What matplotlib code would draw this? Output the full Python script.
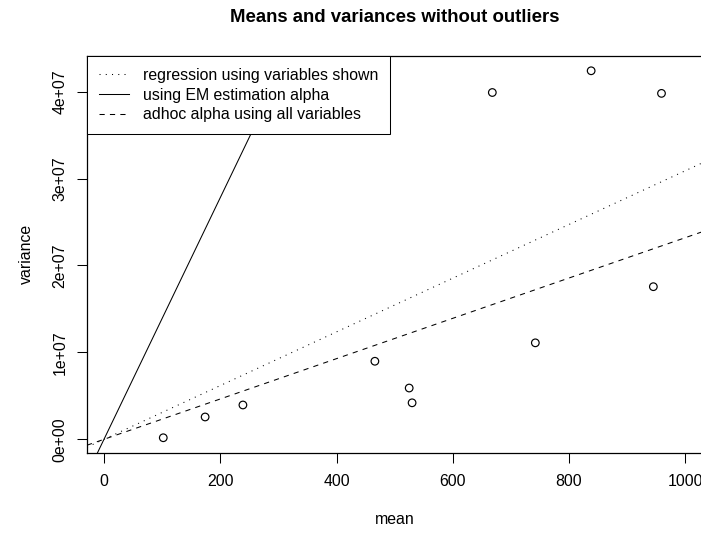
import numpy as np
import matplotlib
matplotlib.use("Agg")
import matplotlib.pyplot as plt

# values
mean_vals = [102, 174, 239, 466, 525, 530, 742, 668, 838, 959, 945]
var_vals = [1.8e5, 2.57e6, 3.95e6, 8.98e6, 5.9e6, 4.2e6, 1.11e7, 3.99e7, 4.24e7, 3.98e7, 1.756e7]

# slopes of the three lines through the origin
slope_regression = 3.09e4
slope_em = 1.39e5
slope_adhoc = 2.32e4

legend_labels = ["regression using variables shown",
                 "using EM estimation alpha",
                 "adhoc alpha using all variables"]

x_ticks = [0, 200, 400, 600, 800, 1000]
y_ticks = [0, 1e7, 2e7, 3e7, 4e7]
y_tick_labels = ["0e+00", "1e+07", "2e+07", "3e+07", "4e+07"]

W, H = 701, 533
plt.rcParams['font.family'] = ['Liberation Sans', 'DejaVu Sans']
base_fs = 11.4

fig = plt.figure(figsize=(W / 100, H / 100), dpi=100)
# plot region in pixels: left 87, right 703 (just past the picture), top 56, bottom 452.7
ax = fig.add_axes([87 / W, (H - 452.7) / H, (703 - 87) / W, (452.7 - 56) / H])

ax.scatter(mean_vals, var_vals, s=30, facecolors='none', edgecolors='black',
           linewidths=0.85, zorder=3)

lw = 0.75
ax.axline((0, 0), slope=slope_regression, color='black', lw=lw,
          linestyle=(0, (1, 5)), label=legend_labels[0])
ax.axline((0, 0), slope=slope_em, color='black', lw=lw,
          linestyle='-', label=legend_labels[1])
ax.axline((0, 0), slope=slope_adhoc, color='black', lw=lw,
          linestyle=(0, (5, 5)), label=legend_labels[2])

ax.set_xlim(-29.2, 1030.4)
ax.set_ylim(-1.54e6, 4.41e7)

ax.set_xticks(x_ticks)
ax.set_xticklabels([str(t) for t in x_ticks])
ax.set_yticks(y_ticks)
ax.set_yticklabels(y_tick_labels, rotation=90, va='center')
ax.tick_params(axis='both', direction='out', length=7, width=0.75,
               labelsize=base_fs, color='black')
ax.tick_params(axis='x', pad=8)
ax.tick_params(axis='y', pad=7)
for s in ax.spines.values():
    s.set_linewidth(0.9)

leg = ax.legend(loc='upper left', bbox_to_anchor=(0, 1), borderaxespad=0,
                fontsize=base_fs, frameon=True, fancybox=False,
                edgecolor='black', framealpha=1, handlelength=1.9,
                handletextpad=0.9, labelspacing=0.3, borderpad=0.75)
leg.get_frame().set_linewidth(0.75)
leg.set_zorder(5)

fig.text(395 / W, 1 - 17 / H, "Means and variances without outliers",
         ha='center', va='center', fontsize=13.4, fontweight='bold')
fig.text(395 / W, 1 - 520 / H, "mean", ha='center', va='center', fontsize=base_fs)
fig.text(26.7 / W, 1 - 254 / H, "variance", ha='center', va='center',
         rotation=90, fontsize=base_fs)

fig.savefig("out.png", dpi=100)
